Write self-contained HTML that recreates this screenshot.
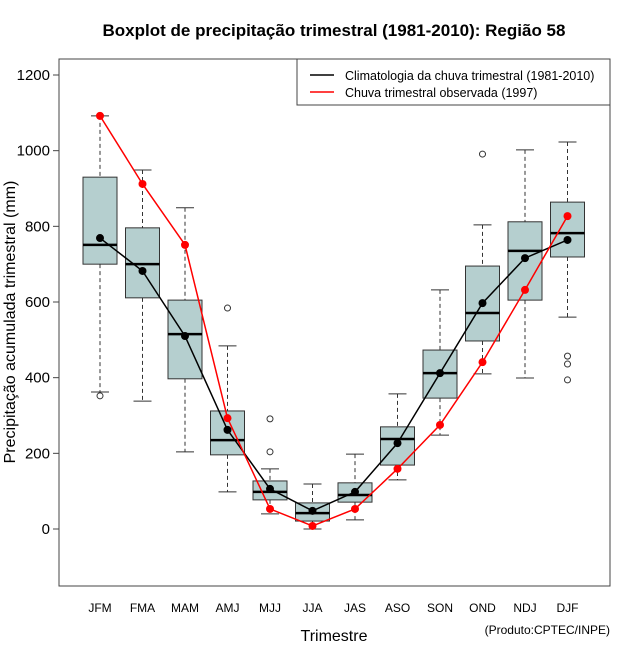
<!DOCTYPE html>
<html><head><meta charset="utf-8"><style>
body{margin:0;background:#fff;}
svg text{font-family:"Liberation Sans",sans-serif;}
</style></head><body>
<svg id="c" width="640" height="660" xmlns="http://www.w3.org/2000/svg">
<text x="334" y="36" text-anchor="middle" font-size="17" font-weight="bold">Boxplot de precipitação trimestral (1981-2010): Região 58</text>
<rect x="59" y="59" width="551" height="527" fill="none" stroke="#444"/>
<g id="g"></g>
<text x="334" y="641" text-anchor="middle" font-size="16">Trimestre</text>
<text transform="translate(15,322) rotate(-90)" text-anchor="middle" font-size="16">Precipitação acumulada trimestral (mm)</text>
<text x="610" y="634" text-anchor="end" font-size="12">(Produto:CPTEC/INPE)</text>
<g>
<rect x="297" y="59" width="313" height="46" fill="#fff" stroke="#444"/>
<line x1="310" y1="75" x2="334" y2="75" stroke="#000" stroke-width="1.5"/>
<text x="345" y="80" font-size="12.5">Climatologia da chuva trimestral (1981-2010)</text>
<line x1="310" y1="92" x2="334" y2="92" stroke="#f00" stroke-width="1.5"/>
<text x="345" y="97" font-size="12.5">Chuva trimestral observada (1997)</text>
</g>
</svg>
<script>
const categories=["JFM","FMA","MAM","AMJ","MJJ","JJA","JAS","ASO","SON","OND","NDJ","DJF"];
const whiskerHigh=[1092,949,849,484,159,119,198,357,632,804,1002,1023];
const q3=[930,796,605,312,127,69,122,270,473,695,812,864];
const medians=[751,700,515,235,98,42,90,238,412,571,735,782];
const q1=[700,611,397,196,77,21,71,169,346,497,605,719];
const whiskerLow=[362,338,204,98,40,0,24,130,248,410,399,560];
const outliers=[[352],[],[],[584],[291,204],[],[],[],[],[991],[],[457,436,394]];
const climMean=[769,682,510,262,106,48,98,227,412,597,716,764];
const observed=[1092,912,751,293,53,8,53,159,275,441,632,827];
const yTicks=[0,200,400,600,800,1000,1200];
const NS="http://www.w3.org/2000/svg";
const g=document.getElementById('g');
const y=v=>529-v*(454/1200);
const x=i=>100+i*42.5;
function mk(t,a,p){const e=document.createElementNS(NS,t);for(const k in a)e.setAttribute(k,a[k]);(p||g).appendChild(e);return e;}
yTicks.forEach(t=>{
 const l=mk('line',{x1:53,x2:59,y1:y(t),y2:y(t),stroke:'#444'});
 
 
 const tx=mk('text',{x:50,y:y(t)+5,'text-anchor':'end','font-size':15});tx.textContent=t;
 
 
});
categories.forEach((c,i)=>{
 const cx=x(i),hw=17;
 const tx=mk('text',{x:cx,y:612,'text-anchor':'middle','font-size':12});tx.textContent=c;
 
 
 const wg=mk('g',{stroke:'#333','stroke-width':1});
 
 
 mk('line',{x1:cx,x2:cx,y1:y(whiskerHigh[i]),y2:y(q3[i]),'stroke-dasharray':'4,3'},wg);
 mk('line',{x1:cx,x2:cx,y1:y(q1[i]),y2:y(whiskerLow[i]),'stroke-dasharray':'4,3'},wg);
 mk('line',{x1:cx-9,x2:cx+9,y1:y(whiskerHigh[i]),y2:y(whiskerHigh[i])},wg);
 mk('line',{x1:cx-9,x2:cx+9,y1:y(whiskerLow[i]),y2:y(whiskerLow[i])},wg);
 const b=mk('rect',{x:cx-hw,y:y(q3[i]),width:hw*2,height:y(q1[i])-y(q3[i]),fill:'#b5cfcf',stroke:'#333'});
 
 
 const m=mk('line',{x1:cx-hw,x2:cx+hw,y1:y(medians[i]),y2:y(medians[i]),stroke:'#000','stroke-width':2.5});
 
 
 outliers[i].forEach(o=>{
  const ci=mk('circle',{cx:cx,cy:y(o),r:3,fill:'none',stroke:'#333'});
  
  
 });
});
function series(vals,col,name){
 const p=mk('polyline',{points:vals.map((v,i)=>x(i)+','+y(v)).join(' '),fill:'none',stroke:col,'stroke-width':1.5});
 
 
 vals.forEach((v,i)=>{
  const c=mk('circle',{cx:x(i),cy:y(v),r:4,fill:col});
  
  
 });
}
series(climMean,'#000','climatology');
series(observed,'#f00','observed');
</script>
</body></html>
